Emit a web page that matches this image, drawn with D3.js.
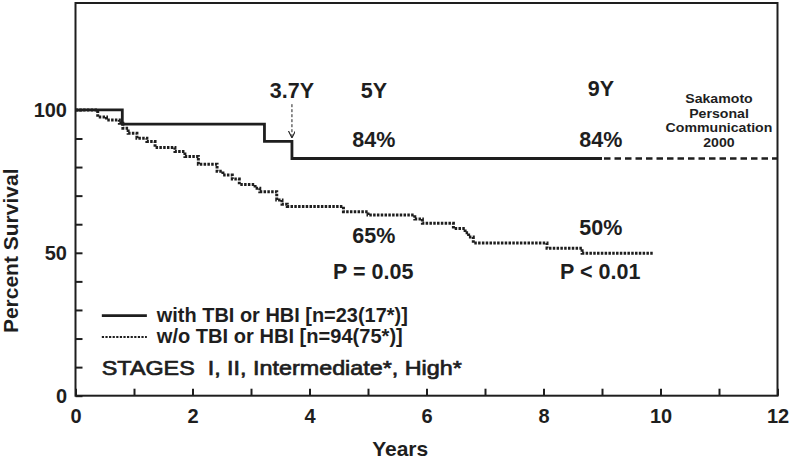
<!DOCTYPE html>
<html>
<head>
<meta charset="utf-8">
<script src="https://cdn.jsdelivr.net/npm/d3@7"></script>
<style>
  html, body { margin: 0; padding: 0; background: #fff; }
  svg text { font-family: 'Liberation Sans', Arial, sans-serif; fill: #1e1e1e; }
</style>
</head>
<body>
<svg class="km" width="792" height="460"></svg>
<script>
// with TBI or HBI (step after each time)
const withTimes = [0, 0.8, 3.23, 3.7, 9.0];
const withSurv = [100, 95, 89, 83, 83];
// Sakamoto projection (dashed)
const projTimes = [9.0, 12];
const projSurv = [83, 83];
// w/o TBI or HBI
const woTimes = [0, 0.38, 0.53, 0.75, 0.81, 0.9, 1.05, 1.22, 1.36, 1.7, 1.87, 2.1, 2.42, 2.52, 2.68, 2.8, 3.07, 3.15, 3.44, 3.53, 3.62, 4.58, 5.0, 5.8, 5.93, 6.46, 6.66, 6.72, 6.8, 8.06, 8.66, 9.87];
const woSurv = [100, 97.5, 96.5, 95.3, 93.6, 91.8, 90.1, 88.9, 86.8, 85.4, 83.7, 81.0, 78.5, 77.2, 75.8, 73.9, 72.6, 71.4, 68.5, 67.0, 66.2, 64.4, 63.2, 61.8, 60.3, 58.5, 57.0, 55.5, 53.4, 51.6, 49.8, 49.8];

const xTicks = d3.range(0, 13);
const xTickLabels = [0, 2, 4, 6, 8, 10, 12];
const yTicks = d3.range(0, 101, 10);
const yTickLabels = [0, 50, 100];

const legendLabels = ['with TBI or HBI [n=23(17*)]', 'w/o TBI or HBI [n=94(75*)]'];
const stagesLabel = 'STAGES  I, II, Intermediate*, High*';
const sourceLines = ['Sakamoto', 'Personal', 'Communication', '2000'];

const svg = d3.select('svg.km'),
    margin = { top: 3, right: 14.5, bottom: 64.3, left: 75.5 },
    width = +svg.attr('width') - margin.left - margin.right,
    height = +svg.attr('height') - margin.top - margin.bottom;

const x = d3.scaleLinear().domain([0, 12]).range([0, width]);
// 100% sits well below the top of the frame
const y = d3.scaleLinear().domain([0, 137.4]).range([height, 0]);

const g = svg.append('g')
    .attr('transform', 'translate(' + margin.left + ',' + margin.top + ')');

// frame
g.append('rect')
    .attr('x', 0).attr('y', 0)
    .attr('width', width).attr('height', height)
    .attr('fill', 'none')
    .attr('stroke', '#1e1e1e')
    .attr('stroke-width', 2);

const xAxis = g.append('g')
    .attr('transform', 'translate(0,' + height + ')')
    .call(d3.axisBottom(x)
        .tickValues(xTicks)
        .tickSize(-7)
        .tickSizeOuter(0)
        .tickPadding(13.5)
        .tickFormat((d) => xTickLabels.includes(d) ? d : ''));

const yAxis = g.append('g')
    .call(d3.axisLeft(y)
        .tickValues(yTicks)
        .tickSize(-7)
        .tickSizeOuter(0)
        .tickPadding(8.5)
        .tickFormat((d) => yTickLabels.includes(d) ? d : ''));

[xAxis, yAxis].forEach((a) => {
    a.select('.domain').remove();
    a.selectAll('line').attr('stroke', '#1e1e1e').attr('stroke-width', 2);
    a.selectAll('text')
        .style('font-family', "'Liberation Sans', Arial, sans-serif")
        .style('font-size', '20px')
        .style('font-weight', 'bold')
        .attr('fill', '#1e1e1e');
});

// axis titles
g.append('text')
    .attr('text-anchor', 'middle')
    .attr('transform', 'translate(' + (x(5.55)) + ',' + (height + 60) + ')')
    .style('font-size', '21px').style('font-weight', 'bold')
    .text('Years');

g.append('text')
    .attr('text-anchor', 'middle')
    .attr('transform', 'translate(' + (18 - margin.left) + ',' + y(50.7) + ')rotate(-90)')
    .style('font-size', '21px').style('font-weight', 'bold')
    .text('Percent Survival');

// curves
const stepLine = d3.line()
    .x((d) => x(d[0]))
    .y((d) => y(d[1]))
    .curve(d3.curveStepAfter);

g.append('path')
    .datum(woTimes.map((t, i) => [t, woSurv[i]]))
    .attr('d', stepLine)
    .attr('fill', 'none')
    .attr('stroke', '#1e1e1e')
    .attr('stroke-width', 3)
    .attr('stroke-dasharray', '2.5,1.3');

g.append('path')
    .datum(withTimes.map((t, i) => [t, withSurv[i]]))
    .attr('d', stepLine)
    .attr('fill', 'none')
    .attr('stroke', '#1e1e1e')
    .attr('stroke-width', 2.8);

g.append('path')
    .datum(projTimes.map((t, i) => [t, projSurv[i]]))
    .attr('d', stepLine)
    .attr('fill', 'none')
    .attr('stroke', '#1e1e1e')
    .attr('stroke-width', 2.6)
    .attr('stroke-dasharray', '6.5,4')
    .attr('stroke-dashoffset', -2);

// arrow at 3.7Y
svg.append('defs').append('marker')
    .attr('id', 'arr')
    .attr('viewBox', '0 0 10 10')
    .attr('refX', 10).attr('refY', 5)
    .attr('markerWidth', 7).attr('markerHeight', 7)
    .attr('markerUnits', 'userSpaceOnUse')
    .attr('orient', 'auto')
    .append('path')
    .attr('d', 'M0,0 L10,5 L0,10')
    .attr('fill', 'none')
    .attr('stroke', '#1e1e1e')
    .attr('stroke-width', 1.6);

g.append('line')
    .attr('x1', x(3.7)).attr('x2', x(3.7))
    .attr('y1', y(102)).attr('y2', y(90.2))
    .attr('stroke', '#1e1e1e')
    .attr('stroke-width', 1)
    .attr('stroke-dasharray', '3,2')
    .attr('marker-end', 'url(#arr)');

// annotations
const notes = [
    { text: '3.7Y', t: 3.7, v: 104.2 },
    { text: '5Y', t: 5.1, v: 104.2 },
    { text: '9Y', t: 8.98, v: 104.8 },
    { text: '84%', t: 5.1, v: 87.05 },
    { text: '84%', t: 8.98, v: 87.05 },
    { text: '65%', t: 5.1, v: 53.3 },
    { text: '50%', t: 8.98, v: 56.2 },
    { text: 'P = 0.05', t: 5.09, v: 40.8 },
    { text: 'P < 0.01', t: 8.97, v: 40.8 }
];

g.selectAll('.note')
    .data(notes)
    .enter().append('text')
    .attr('class', 'note')
    .attr('text-anchor', 'middle')
    .attr('x', (d) => x(d.t))
    .attr('y', (d) => y(d.v))
    .style('font-size', '21.5px').style('font-weight', 'bold')
    .text((d) => d.text);

// source note: tight line spacing, so a smaller font stretched to the original widths
g.selectAll('.src')
    .data(sourceLines)
    .enter().append('text')
    .attr('class', 'src')
    .attr('text-anchor', 'middle')
    .attr('x', x(11.0))
    .attr('y', (d, i) => y(102.3 - i * 5.05))
    .style('font-size', '12.4px').style('font-weight', 'bold')
    .text((d) => d)
    .each(function() {
        const w = this.getComputedTextLength();
        d3.select(this).attr('textLength', w * 1.14).attr('lengthAdjust', 'spacingAndGlyphs');
    });

// legend
const legendStyles = [null, '2.2,1.4'];
const legend = g.selectAll('.leg')
    .data(legendLabels)
    .enter().append('g')
    .attr('class', 'leg');

legend.append('line')
    .attr('x1', x(0.45)).attr('x2', x(1.22))
    .attr('y1', (d, i) => y(28 - i * 7.5))
    .attr('y2', (d, i) => y(28 - i * 7.5))
    .attr('stroke', '#1e1e1e')
    .attr('stroke-width', (d, i) => i ? 2 : 2.8)
    .attr('stroke-dasharray', (d, i) => legendStyles[i]);

legend.append('text')
    .attr('x', x(1.39))
    .attr('y', (d, i) => y(25.8 - i * 7.5))
    .attr('textLength', (d, i) => i ? 246 : 251)
    .attr('lengthAdjust', 'spacingAndGlyphs')
    .style('font-size', '20.5px').style('font-weight', 'bold')
    .text((d) => d);

g.append('text')
    .attr('x', x(0.45))
    .attr('y', y(7.2))
    .attr('textLength', 360)
    .attr('lengthAdjust', 'spacingAndGlyphs')
    .style('font-size', '21px')
    .style('white-space', 'pre')
    .style('stroke', '#1e1e1e').style('stroke-width', 0.7)
    .text(stagesLabel);
</script>
</body>
</html>
